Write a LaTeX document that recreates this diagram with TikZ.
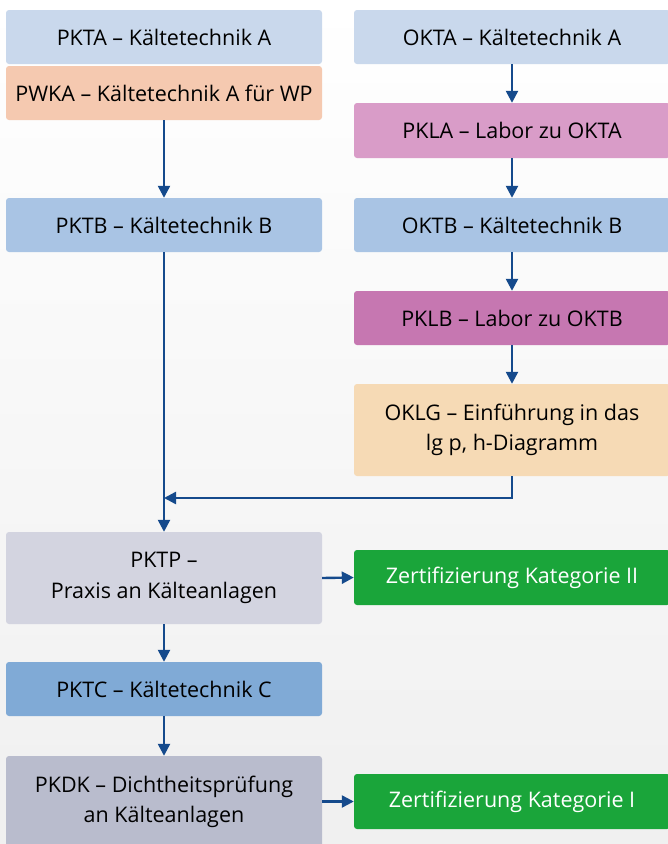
\documentclass[tikz,border=0pt]{standalone}
\usepackage{fontspec}
\setmainfont{Open Sans}
\usetikzlibrary{arrows.meta}
\definecolor{arr}{HTML}{154A8C}
\definecolor{cA}{HTML}{C9D8EC}
\definecolor{cWP}{HTML}{F5C9B0}
\definecolor{cB}{HTML}{A9C4E4}
\definecolor{cLA}{HTML}{D99CC8}
\definecolor{cLB}{HTML}{C677B1}
\definecolor{cLG}{HTML}{F6DAB5}
\definecolor{cP}{HTML}{D3D4E0}
\definecolor{cC}{HTML}{80AAD6}
\definecolor{cDK}{HTML}{B9BCCD}
\definecolor{cZ}{HTML}{1AA53A}
\tikzset{
  box/.style={rounded corners=3pt, minimum width=316pt, minimum height=54pt, inner sep=0pt, align=center, font=\fontsize{21.5}{30.5}\selectfont, text=black},
  tall/.style={minimum height=92pt},
  flow/.style={draw=arr, line width=2.4pt, -{Triangle[width=12pt,length=12pt]}},
}
\begin{document}
\begin{tikzpicture}[x=1pt,y=-1pt]
\useasboundingbox (0,0) rectangle (668,844);
\shade[top color=white, bottom color=white!88!gray] (0,0) rectangle (668,844);
% left column
\node[box, fill=cA] (pkta) at (164,37) {PKTA – Kältetechnik A};
\node[box, fill=cWP] (pwka) at (164,93) {PWKA – Kältetechnik A für WP};
\node[box, fill=cB] (pktb) at (164,225) {PKTB – Kältetechnik B};
\node[box, tall, fill=cP] (pktp) at (164,578) {PKTP –\\Praxis an Kälteanlagen};
\node[box, fill=cC] (pktc) at (164,689) {PKTC – Kältetechnik C};
\node[box, tall, fill=cDK] (pkdk) at (164,802) {PKDK – Dichtheitsprüfung\\an Kälteanlagen};
% right column
\node[box, fill=cA] (okta) at (512,37) {OKTA – Kältetechnik A};
\node[box, minimum height=55pt, fill=cLA] (pkla) at (512,130.5) {PKLA – Labor zu OKTA};
\node[box, fill=cB] (oktb) at (512,225) {OKTB – Kältetechnik B};
\node[box, fill=cLB] (pklb) at (512,318) {PKLB – Labor zu OKTB};
\node[box, tall, fill=cLG] (oklg) at (512,430) {OKLG – Einführung in das\\lg p, h-Diagramm};
\node[box, minimum height=55pt, fill=cZ, text=white] (z2) at (512,577.5) {Zertifizierung Kategorie II};
\node[box, minimum height=55pt, fill=cZ, text=white] (z1) at (512,801.5) {Zertifizierung Kategorie I};
\coordinate (merge) at (164,498);
% connectors
\draw[flow] (pwka.south) -- (pktb.north);
\draw[flow] (pktb.south) -- (pktp.north);
\draw[flow] (oklg.south) |- (merge);
\draw[flow] (pktp.south) -- (pktc.north);
\draw[flow] (pktc.south) -- (pkdk.north);
\draw[flow] (okta) -- (pkla);
\draw[flow] (pkla) -- (oktb);
\draw[flow] (oktb) -- (pklb);
\draw[flow] (pklb) -- (oklg);
\draw[flow] (pktp.east) -- (z2.west);
\draw[flow] (pkdk.east |- z1.west) -- (z1.west);
\end{tikzpicture}
\end{document}
